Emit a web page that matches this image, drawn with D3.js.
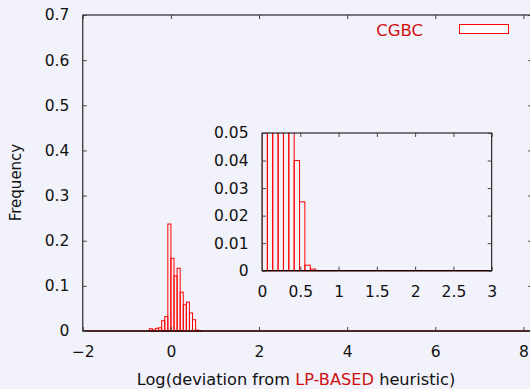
<!DOCTYPE html>
<html>
<head>
<meta charset="utf-8">
<script src="https://cdn.jsdelivr.net/npm/d3@7"></script>
<style>
  body { margin: 0; background: #f2f2fb; }
  text { font-family: "DejaVu Sans", sans-serif; }
</style>
</head>
<body>
<script>
// histogram bins (left edges) and frequencies
let binWidth = 0.07
let binStarts = [-0.49, -0.42, -0.35, -0.28, -0.21, -0.14, -0.07, 0, 0.07, 0.14, 0.21, 0.28, 0.35, 0.42, 0.49, 0.56, 0.63]
let freq = [0.005, 0.002, 0.006, 0.007, 0.023, 0.032, 0.237, 0.161, 0.122, 0.139, 0.086, 0.058, 0.064, 0.040, 0.025, 0.002, 0.0006]

let xTicks = [-2, 0, 2, 4, 6, 8]
let yTicks = [0, 0.1, 0.2, 0.3, 0.4, 0.5, 0.6, 0.7]
let insetXTicks = [0, 0.5, 1, 1.5, 2, 2.5, 3]
let insetYTicks = [0, 0.01, 0.02, 0.03, 0.04, 0.05]

let width = 530, height = 389
let red = "#ff0000"

let svg = d3.select("body").append("svg")
    .attr("width", width)
    .attr("height", height)

let data = binStarts.map(function(d, i) { return {x0: d, x1: d + binWidth, y: freq[i]} })

// main plot
let x = d3.scaleLinear().domain([-2, 8.2]).range([82.8, 532.2])
let y = d3.scaleLinear().domain([0, 0.7]).range([331, 15])

let main = svg.append("g")

main.selectAll(".bar")
    .data(data)
    .enter()
    .append("rect")
    .attr("class", "bar")
    .attr("x", function(d) { return x(d.x0) })
    .attr("y", function(d) { return y(d.y) })
    .attr("width", function(d) { return x(d.x1) - x(d.x0) })
    .attr("height", function(d) { return y(0) - y(d.y) })
    .attr("fill", "none")
    .attr("stroke", red)
    .attr("stroke-width", 1)

// baseline of the histogram
main.append("line")
    .attr("x1", x(-2)).attr("x2", x(8.2))
    .attr("y1", y(0)).attr("y2", y(0))
    .attr("stroke", "#7a1010").attr("stroke-width", 1.4)

function drawFrame(g, xs, ys, xt, yt, fmtX, fmtY, tickLen) {
    let x0 = xs.range()[0], x1 = xs.range()[1]
    let y0 = ys.range()[0], y1 = ys.range()[1]
    g.append("rect")
        .attr("x", x0).attr("y", y1)
        .attr("width", x1 - x0).attr("height", y0 - y1)
        .attr("fill", "none").attr("stroke", "#000").attr("stroke-width", 1)
    g.append("g")
        .attr("transform", "translate(0," + y0 + ")")
        .call(d3.axisBottom(xs).tickValues(xt).tickSizeInner(-tickLen).tickSizeOuter(0).tickPadding(15).tickFormat(fmtX))
    g.append("g")
        .attr("transform", "translate(0," + y1 + ")")
        .call(d3.axisTop(xs).tickValues(xt).tickSizeInner(-tickLen).tickSizeOuter(0).tickFormat(""))
    g.append("g")
        .attr("transform", "translate(" + x0 + ",0)")
        .call(d3.axisLeft(ys).tickValues(yt).tickSizeInner(-tickLen).tickSizeOuter(0).tickPadding(13.5).tickFormat(fmtY))
    g.append("g")
        .attr("transform", "translate(" + x1 + ",0)")
        .call(d3.axisRight(ys).tickValues(yt).tickSizeInner(-tickLen).tickSizeOuter(0).tickFormat(""))
    g.selectAll(".domain").remove()
    g.selectAll(".tick line").attr("stroke", "#444")
    g.selectAll(".tick text")
        .attr("fill", "#111")
        .style("font-size", "15.5px")
        .style("font-family", "DejaVu Sans, sans-serif")
}

drawFrame(main, x, y, xTicks, yTicks,
    function(d) { return d < 0 ? "\u2212" + Math.abs(d) : d },
    function(d) { return d }, 4)

// legend
svg.append("text")
    .attr("x", 423).attr("y", 35.5)
    .attr("text-anchor", "end")
    .attr("fill", "#d01010")
    .style("font-size", "16.5px")
    .text("CGBC")
svg.append("rect")
    .attr("x", 459.5).attr("y", 24.5)
    .attr("width", 49).attr("height", 9)
    .attr("fill", "#fff")
    .attr("stroke", red)

// axis titles
svg.append("text")
    .attr("transform", "translate(20.5,182.5) rotate(-90)")
    .attr("text-anchor", "middle")
    .attr("fill", "#111")
    .style("font-size", "15px")
    .text("Frequency")

let xl = svg.append("text")
    .attr("x", 296).attr("y", 385)
    .attr("text-anchor", "middle")
    .attr("fill", "#111")
    .style("font-size", "16.2px")
xl.append("tspan").text("Log(deviation from ")
xl.append("tspan").attr("fill", "#d01010").text("LP-BASED")
xl.append("tspan").text(" heuristic)")

// inset
let xi = d3.scaleLinear().domain([0, 3]).range([262, 491.7])
let yi = d3.scaleLinear().domain([0, 0.05]).range([270.7, 133])

let inset = svg.append("g")
svg.append("defs").append("clipPath").attr("id", "insetClip")
    .append("rect")
    .attr("x", xi(0)).attr("y", yi(0.05))
    .attr("width", xi(3) - xi(0)).attr("height", yi(0) - yi(0.05))

inset.append("g")
    .attr("clip-path", "url(#insetClip)")
    .selectAll(".ibar")
    .data(data.filter(function(d) { return d.x0 >= 0 }))
    .enter()
    .append("rect")
    .attr("class", "ibar")
    .attr("x", function(d) { return xi(d.x0) })
    .attr("y", function(d) { return yi(d.y) })
    .attr("width", function(d) { return xi(d.x1) - xi(d.x0) })
    .attr("height", function(d) { return yi(0) - yi(d.y) })
    .attr("fill", "none")
    .attr("stroke", red)
    .attr("stroke-width", 1)

inset.append("line")
    .attr("x1", xi(0)).attr("x2", xi(3))
    .attr("y1", yi(0)).attr("y2", yi(0))
    .attr("stroke", "#7a1010").attr("stroke-width", 1.4)

drawFrame(inset, xi, yi, insetXTicks, insetYTicks,
    function(d) { return d }, function(d) { return d }, 4)
</script>
</body>
</html>
